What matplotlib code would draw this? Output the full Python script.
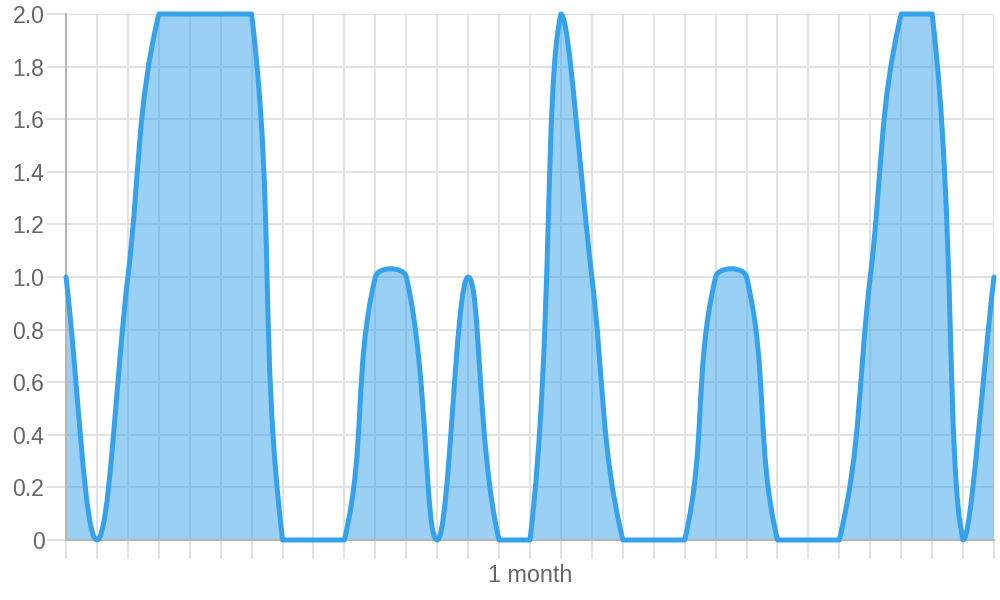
import matplotlib
matplotlib.use('Agg')
import matplotlib.pyplot as plt
from matplotlib.path import Path
from matplotlib.patches import PathPatch

# 每日數值（31 天）
days = list(range(31))
values = [1, 0, 1, 2, 2, 2, 2, 0, 0, 0, 1, 1, 0, 1, 0, 0,
          2, 1, 0, 0, 0, 1, 1, 0, 0, 0, 1, 2, 2, 0, 1]
y_ticks = [0, 0.2, 0.4, 0.6, 0.8, 1.0, 1.2, 1.4, 1.6, 1.8, 2.0]
y_tick_labels = ['0', '0.2', '0.4', '0.6', '0.8', '1.0', '1.2', '1.4', '1.6', '1.8', '2.0']
x_label = '1 month'

line_color = '#36a2eb'
fill_color = (54 / 255, 162 / 255, 235 / 255, 0.5)
grid_color = '#e2e2e2'
axis_color = '#b4b4b4'
text_color = '#666666'

plt.rcParams['font.family'] = ['Liberation Sans', 'DejaVu Sans']

fig = plt.figure(figsize=(10, 6), dpi=100)
ax = fig.add_axes([0.066, 0.1, 0.928, 526 / 600])

x_min, x_max = days[0], days[-1]
y_min, y_max = 0, 2


def control_points(xs, ys, tension=0.4):
    # 仿 Chart.js 的樣條控制點（以像素距離計算，並限制在繪圖區內）
    bb = ax.get_position()
    px = bb.width * 1000 / (x_max - x_min)
    py = bb.height * 600 / (y_max - y_min)
    n = len(xs)
    prev_cp, next_cp = [], []
    for i in range(n):
        p = max(i - 1, 0)
        q = min(i + 1, n - 1)
        d01 = ((xs[i] - xs[p]) ** 2 * px ** 2 + (ys[i] - ys[p]) ** 2 * py ** 2) ** 0.5
        d12 = ((xs[q] - xs[i]) ** 2 * px ** 2 + (ys[q] - ys[i]) ** 2 * py ** 2) ** 0.5
        tot = d01 + d12
        s01 = d01 / tot if tot else 0
        s12 = d12 / tot if tot else 0
        fa = tension * s01
        fb = tension * s12
        dx = xs[q] - xs[p]
        dy = ys[q] - ys[p]
        cpx0, cpy0 = xs[i] - fa * dx, ys[i] - fa * dy
        cpx1, cpy1 = xs[i] + fb * dx, ys[i] + fb * dy
        clamp_x = lambda v: min(max(v, x_min), x_max)
        clamp_y = lambda v: min(max(v, y_min), y_max)
        prev_cp.append((clamp_x(cpx0), clamp_y(cpy0)))
        next_cp.append((clamp_x(cpx1), clamp_y(cpy1)))
    return prev_cp, next_cp


prev_cp, next_cp = control_points(days, values)
verts = [(days[0], values[0])]
codes = [Path.MOVETO]
for i in range(1, len(days)):
    verts += [next_cp[i - 1], prev_cp[i], (days[i], values[i])]
    codes += [Path.CURVE4] * 3

fill_verts = verts + [(days[-1], 0), (days[0], 0), (days[0], values[0])]
fill_codes = codes + [Path.LINETO, Path.LINETO, Path.CLOSEPOLY]

ax.add_patch(PathPatch(Path(fill_verts, fill_codes), facecolor=fill_color,
                       edgecolor='none', zorder=2))
ax.add_patch(PathPatch(Path(verts, codes), facecolor='none', edgecolor=line_color,
                       linewidth=3.6, joinstyle='round', capstyle='round',
                       zorder=3, clip_on=False))

ax.set_xlim(x_min, x_max)
ax.set_ylim(y_min, y_max)
ax.set_xticks(days)
ax.set_xticklabels([''] * len(days))
ax.set_yticks(y_ticks)
ax.set_yticklabels(y_tick_labels)

ax.set_axisbelow(True)
ax.grid(True, color=grid_color, linewidth=1.4)
ax.tick_params(axis='both', length=14, width=1.4, color=grid_color,
               labelcolor=text_color, labelsize=16.6, pad=1.5)

for side in ['top', 'right']:
    ax.spines[side].set_visible(False)
for side in ['left', 'bottom']:
    ax.spines[side].set_color(axis_color)
    ax.spines[side].set_linewidth(1.4)
    ax.spines[side].set_zorder(2.5)

ax.text(0.5, -42 / 526, x_label, transform=ax.transAxes, ha='center', va='baseline',
        color=text_color, fontsize=16.8)

fig.savefig('out.png', dpi=100)
plt.close(fig)
